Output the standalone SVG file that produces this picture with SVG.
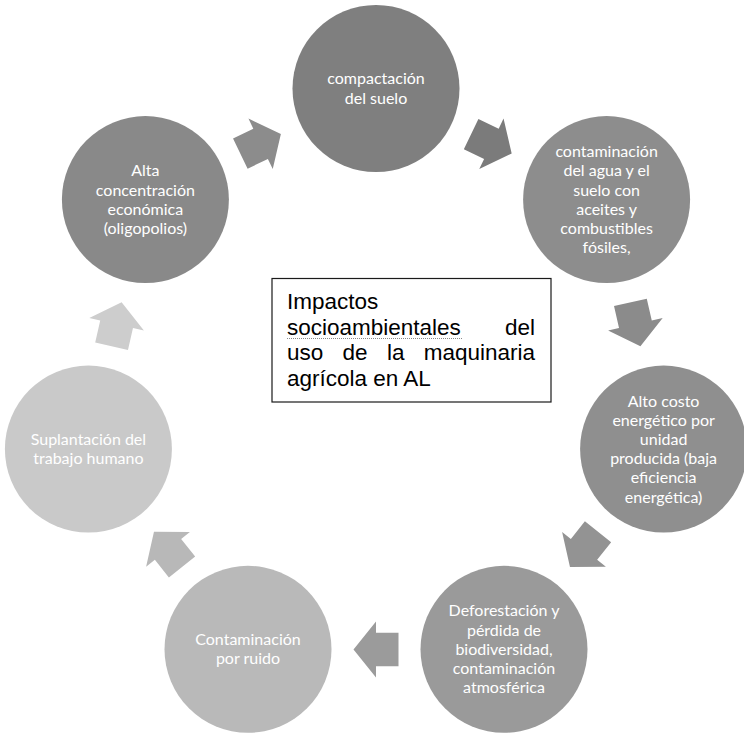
<svg xmlns="http://www.w3.org/2000/svg" xmlns:xlink="http://www.w3.org/1999/xlink" width="744" height="735" viewBox="0 0 744 735">
  <style>
    .lbl { font-family: Lato, "Open Sans", "Liberation Sans", sans-serif; font-size: 16px; fill: #ffffff; text-anchor: middle; }
    .title { font-family: "Liberation Sans", Arial, sans-serif; font-size: 22.5px; fill: #000000; }
    .box { fill: #ffffff; stroke: #1a1a1a; stroke-width: 1.2; }
  </style>
  <defs>
    <!-- block arrow pointing along +x, centred on the origin -->
    <polygon id="arrow" points="-22.5,-16.8 0,-16.8 0,-28 22.5,0 0,28 0,16.8 -22.5,16.8"/>
  </defs>
  <rect width="744" height="735" fill="#ffffff"/>

  <!-- connectors: cycle arrows between the circles -->
  <g id="connectors">
    <use xlink:href="#arrow" href="#arrow" transform="translate(260.6,143.8) rotate(-25.71)" fill="#8c8c8c"/>
    <use xlink:href="#arrow" href="#arrow" transform="translate(491.4,143.8) rotate(25.71)" fill="#7b7b7b"/>
    <use xlink:href="#arrow" href="#arrow" transform="translate(635.4,324.3) rotate(77.14)" fill="#8b8b8b"/>
    <use xlink:href="#arrow" href="#arrow" transform="translate(584.0,549.4) rotate(128.57)" fill="#939393"/>
    <use xlink:href="#arrow" href="#arrow" transform="translate(376,649.5) rotate(180)" fill="#9b9b9b"/>
    <use xlink:href="#arrow" href="#arrow" transform="translate(168.0,549.4) rotate(231.43)" fill="#b8b8b8"/>
    <use xlink:href="#arrow" href="#arrow" transform="translate(116.6,324.3) rotate(282.86)" fill="#cdcdcd"/>
  </g>

  <g id="node-compactacion">
    <circle cx="376" cy="88.5" r="83.5" fill="#7f7f7f"/>
    <text class="lbl" x="376" y="84.4">compactación</text>
    <text class="lbl" x="376" y="103.6">del suelo</text>
  </g>

  <g id="node-contaminacion-agua">
    <circle cx="606.6" cy="199.6" r="83.5" fill="#8d8d8d"/>
    <text class="lbl" x="606.6" y="157.1">contaminación</text>
    <text class="lbl" x="606.6" y="176.3">del agua y el</text>
    <text class="lbl" x="606.6" y="195.5">suelo con</text>
    <text class="lbl" x="606.6" y="214.7">aceites y</text>
    <text class="lbl" x="606.6" y="233.9">combustibles</text>
    <text class="lbl" x="606.6" y="253.1">fósiles,</text>
  </g>

  <g id="node-costo-energetico">
    <circle cx="663.6" cy="449.1" r="83.5" fill="#8f8f8f"/>
    <text class="lbl" x="663.6" y="406.6">Alto costo</text>
    <text class="lbl" x="663.6" y="425.8">energético por</text>
    <text class="lbl" x="663.6" y="445">unidad</text>
    <text class="lbl" x="663.6" y="464.2">producida (baja</text>
    <text class="lbl" x="663.6" y="483.4">eficiencia</text>
    <text class="lbl" x="663.6" y="502.6">energética)</text>
  </g>

  <g id="node-deforestacion">
    <circle cx="504" cy="649.3" r="83.5" fill="#9a9a9a"/>
    <text class="lbl" x="504" y="616.4">Deforestación y</text>
    <text class="lbl" x="504" y="635.6">pérdida de</text>
    <text class="lbl" x="504" y="654.8">biodiversidad,</text>
    <text class="lbl" x="504" y="674">contaminación</text>
    <text class="lbl" x="504" y="693.2">atmosférica</text>
  </g>

  <g id="node-ruido">
    <circle cx="248" cy="649.3" r="83.5" fill="#b9b9b9"/>
    <text class="lbl" x="248" y="645.2">Contaminación</text>
    <text class="lbl" x="248" y="664.4">por ruido</text>
  </g>

  <g id="node-suplantacion">
    <circle cx="88.4" cy="449.1" r="83.5" fill="#c9c9c9"/>
    <text class="lbl" x="88.4" y="445">Suplantación del</text>
    <text class="lbl" x="88.4" y="464.2">trabajo humano</text>
  </g>

  <g id="node-concentracion">
    <circle cx="145.4" cy="199.6" r="83.5" fill="#898989"/>
    <text class="lbl" x="145.4" y="176.3">Alta</text>
    <text class="lbl" x="145.4" y="195.5">concentración</text>
    <text class="lbl" x="145.4" y="214.7">económica</text>
    <text class="lbl" x="145.4" y="233.9">(oligopolios)</text>
  </g>

  <!-- central title box with justified text -->
  <g id="title-box">
    <rect class="box" x="272" y="278.5" width="279" height="123.5"/>
    <text class="title" x="287" y="309">Impactos</text>
    <text class="title" x="287" y="334.7">socioambientales</text>
    <text class="title" x="535" y="334.7" text-anchor="end">del</text>
    <line x1="287" y1="338.5" x2="462" y2="338.5" stroke="#8a8a8a" stroke-width="1" stroke-dasharray="1 1"/>
    <text class="title" x="287" y="360.4">uso</text>
    <text class="title" x="342.6" y="360.4">de</text>
    <text class="title" x="386.9" y="360.4">la</text>
    <text class="title" x="535" y="360.4" text-anchor="end">maquinaria</text>
    <text class="title" x="287" y="386">agrícola en AL</text>
  </g>
</svg>
